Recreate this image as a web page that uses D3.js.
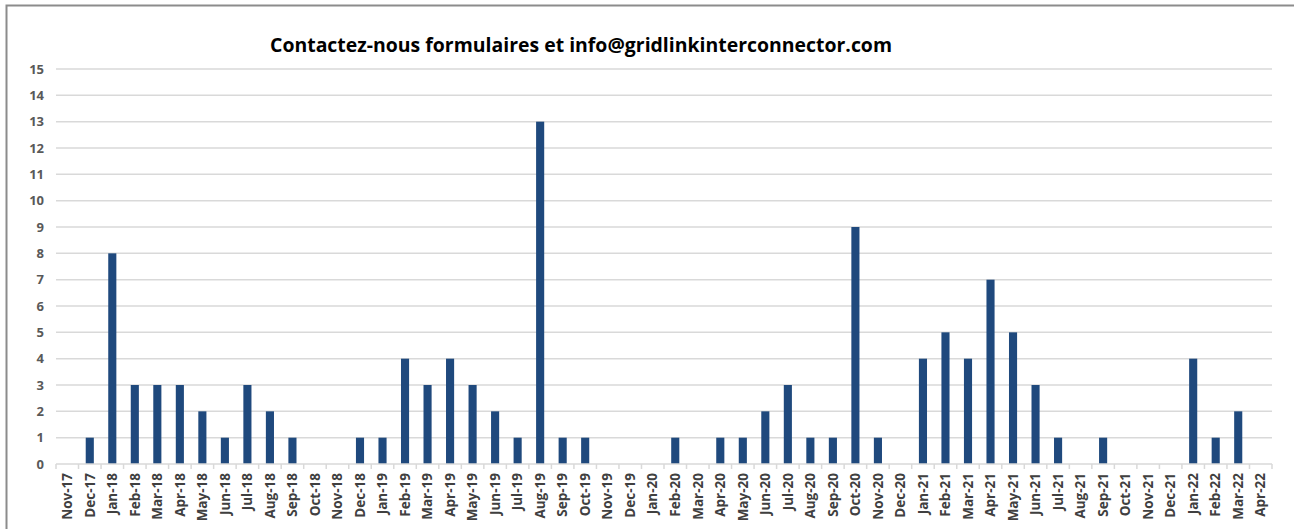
<!DOCTYPE html>
<html>
<head>
<meta charset="utf-8">
<script src="https://cdn.jsdelivr.net/npm/d3@7"></script>
<style>
  html, body { margin: 0; padding: 0; background: #fff; }
  svg { display: block; }
</style>
</head>
<body>
<div id="chart"></div>
<script>
/* ── Data ─────────────────────────────────────────────────────────────── */
const months = [
  'Nov-17','Dec-17',
  'Jan-18','Feb-18','Mar-18','Apr-18','May-18','Jun-18','Jul-18','Aug-18','Sep-18','Oct-18','Nov-18','Dec-18',
  'Jan-19','Feb-19','Mar-19','Apr-19','May-19','Jun-19','Jul-19','Aug-19','Sep-19','Oct-19','Nov-19','Dec-19',
  'Jan-20','Feb-20','Mar-20','Apr-20','May-20','Jun-20','Jul-20','Aug-20','Sep-20','Oct-20','Nov-20','Dec-20',
  'Jan-21','Feb-21','Mar-21','Apr-21','May-21','Jun-21','Jul-21','Aug-21','Sep-21','Oct-21','Nov-21','Dec-21',
  'Jan-22','Feb-22','Mar-22','Apr-22'
];
const counts = [
  0, 1,
  8, 3, 3, 3, 2, 1, 3, 2, 1, 0, 0, 1,
  1, 4, 3, 4, 3, 2, 1, 13, 1, 1, 0, 0,
  0, 1, 0, 1, 1, 2, 3, 1, 1, 9, 1, 0,
  4, 5, 4, 7, 5, 3, 1, 0, 1, 0, 0, 0,
  4, 1, 2, 0
];
const yTicks = d3.range(0, 16);
const title = 'Contactez-nous formulaires et info@gridlinkinterconnector.com';

/* ── Layout ───────────────────────────────────────────────────────────── */
const W = 1294, H = 529;
const plot = { left: 56, right: 1272, top: 69, bottom: 464 };
const BAR = '#1f497d';
const GRID = '#d9d9d9';

const svg = d3.select('#chart').append('svg')
  .attr('width', W).attr('height', H);

// chart frame (top + left edges visible)
svg.append('path')
  .attr('d', `M6.5,${H} V5.5 H${W}`)
  .attr('fill', 'none')
  .attr('stroke', '#8c8c8c')
  .attr('stroke-width', 2);

const x = d3.scaleBand()
  .domain(months)
  .range([plot.left, plot.right])
  .paddingInner(0.64)
  .paddingOuter(0.32);

const y = d3.scaleLinear()
  .domain([0, 15])
  .range([plot.bottom, plot.top]);

// gridlines
svg.append('g')
  .selectAll('line')
  .data(yTicks.filter(d => d > 0))
  .join('line')
    .attr('x1', plot.left).attr('x2', plot.right)
    .attr('y1', d => y(d)).attr('y2', d => y(d))
    .attr('stroke', GRID)
    .attr('stroke-width', 1.5);

// y tick labels
svg.append('g')
  .selectAll('text')
  .data(yTicks)
  .join('text')
    .attr('x', 44)
    .attr('y', d => y(d))
    .attr('dy', '0.35em')
    .attr('text-anchor', 'end')
    .style('font-family', '"Open Sans", sans-serif')
    .style('font-weight', 'bold')
    .style('font-size', '13px')
    .style('fill', '#595959')
    .text(d => d);

// bars
svg.append('g')
  .selectAll('rect')
  .data(months.map((m, i) => ({ m, v: counts[i] })))
  .join('rect')
    .attr('x', d => x(d.m))
    .attr('y', d => y(d.v))
    .attr('width', x.bandwidth())
    .attr('height', d => y(0) - y(d.v))
    .attr('fill', BAR);

// x axis line + category boundary ticks
const step = x.step();
const axis = svg.append('g');
axis.append('line')
  .attr('x1', plot.left).attr('x2', plot.right)
  .attr('y1', plot.bottom).attr('y2', plot.bottom)
  .attr('stroke', GRID).attr('stroke-width', 1.5);
axis.selectAll('.tick')
  .data(d3.range(months.length + 1))
  .join('line')
    .attr('class', 'tick')
    .attr('x1', i => plot.left + i * step).attr('x2', i => plot.left + i * step)
    .attr('y1', plot.bottom).attr('y2', plot.bottom + 5)
    .attr('stroke', GRID).attr('stroke-width', 1.5);

// x labels, rotated
axis.selectAll('.lbl')
  .data(months)
  .join('text')
    .attr('class', 'lbl')
    .attr('transform', m => `translate(${x(m) + x.bandwidth() / 2},${plot.bottom + 9}) rotate(-90)`)
    .attr('dy', '0.35em')
    .attr('text-anchor', 'end')
    .style('font-family', '"Open Sans", sans-serif')
    .style('font-weight', 'bold')
    .style('font-size', '13.5px')
    .style('fill', '#404040')
    .text(m => m);

// title
svg.append('text')
  .attr('x', 581)
  .attr('y', 52)
  .attr('text-anchor', 'middle')
  .attr('textLength', 622)
  .attr('lengthAdjust', 'spacingAndGlyphs')
  .style('font-family', '"Open Sans", sans-serif')
  .style('font-weight', 'bold')
  .style('font-size', '19px')
  .style('fill', '#000')
  .text(title);
</script>
</body>
</html>
